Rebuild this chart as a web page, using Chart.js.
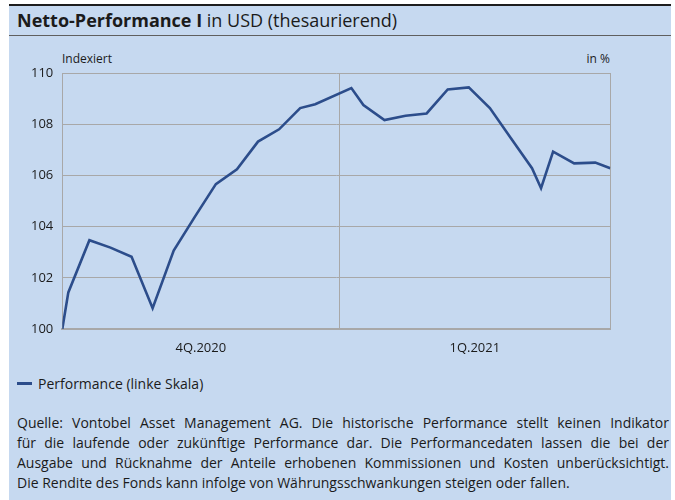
<!DOCTYPE html>
<html>
<head>
<meta charset="utf-8">
<script src="https://cdn.jsdelivr.net/npm/chart.js@4.4.0/dist/chart.umd.min.js"></script>
<style>
body{margin:0;background:#fff;font-family:'Open Sans',sans-serif;color:#1b1b1b;}
div,canvas{position:absolute;}
#panel{left:9px;top:4px;width:662px;height:496px;background:#c6d9f0;border-top:2px solid #1e1e1e;box-sizing:border-box;}
#title{left:9px;top:6px;width:654px;height:29px;line-height:29px;padding-left:8px;font-size:18px;border-bottom:1px solid #5f5f5f;}
#title b{font-weight:700;}
.unit{top:51px;font-size:12px;line-height:16px;}
#legendLine{left:17px;top:382px;width:15px;height:3px;background:#2c4d8b;}
#legendText{left:38px;top:374px;font-size:14px;line-height:20px;}
#note{left:17px;top:413px;width:652px;font-size:14px;line-height:20px;}
#note p{margin:0;text-align:justify;text-align-last:justify;}
#note p.last{text-align-last:left;}
</style>
</head>
<body>
<div id="panel"></div>
<div id="title"><b>Netto-Performance I</b> in USD (thesaurierend)</div>
<div class="unit" style="left:62px">Indexiert</div>
<div class="unit" style="left:560px;width:50px;text-align:right">in %</div>
<canvas id="chart" width="662" height="330" style="left:9px;top:36px"></canvas>
<div id="legendLine"></div>
<div id="legendText">Performance (linke Skala)</div>
<div id="note">
<p>Quelle: Vontobel Asset Management AG. Die historische Performance stellt keinen Indikator</p>
<p>für die laufende oder zukünftige Performance dar. Die Performancedaten lassen die bei der</p>
<p>Ausgabe und Rücknahme der Anteile erhobenen Kommissionen und Kosten unberücksichtigt.</p>
<p class="last">Die Rendite des Fonds kann infolge von Währungsschwankungen steigen oder fallen.</p>
</div>
<script>
// data
var dates = ['2020-10-01','2020-10-03','2020-10-10','2020-10-17','2020-10-24','2020-10-31','2020-11-07','2020-11-14','2020-11-21','2020-11-28','2020-12-05','2020-12-12','2020-12-19','2020-12-24','2021-01-05','2021-01-09','2021-01-16','2021-01-23','2021-01-30','2021-02-06','2021-02-13','2021-02-20','2021-02-27','2021-03-06','2021-03-09','2021-03-13','2021-03-20','2021-03-27','2021-04-01'];
var performance = [100.0,101.43,103.47,103.18,102.82,100.81,103.06,104.38,105.66,106.24,107.32,107.80,108.63,108.78,109.41,108.75,108.16,108.33,108.42,109.36,109.44,108.63,107.45,106.28,105.50,106.93,106.47,106.50,106.28];
var quarterStarts = ['2020-10-01','2021-01-01','2021-04-01'];
var quarterLabels = ['4Q.2020','1Q.2021'];
var yMin = 100;
var yMax = 110;
var yStep = 2;

var gridColor = '#a8a8a8';
var lineColor = '#2c4d8b';

function dayOf(d){
  return (Date.parse(d) - Date.parse(quarterStarts[0])) / 86400000;
}

var points = [];
for (var i=0;i<dates.length;i++){
  points.push({x: dayOf(dates[i]), y: performance[i]});
}

var bounds = quarterStarts.map(dayOf);
var mids = [];
for (var q=0;q<quarterLabels.length;q++){
  mids.push(Math.round((bounds[q] + bounds[q+1]) / 2));
}

var ctx = document.getElementById('chart').getContext('2d');
var chart = new Chart(ctx, {
  type: 'line',
  data: {
    datasets: [{
      label: 'Performance (linke Skala)',
      data: points,
      borderColor: lineColor,
      borderWidth: 2.6,
      pointRadius: 0,
      tension: 0
    }]
  },
  options: {
    responsive: false,
    animation: false,
    layout: {padding: {top: 37, right: 60.7, left: 0, bottom: 0}},
    plugins: {legend: {display: false}, tooltip: {enabled: false}},
    scales: {
      x: {
        type: 'linear',
        min: bounds[0],
        max: bounds[bounds.length-1],
        afterBuildTicks: function(scale){
          var all = bounds.concat(mids).sort(function(a,b){return a-b;});
          scale.ticks = all.map(function(v){return {value: v};});
        },
        afterFit: function(scale){ scale.height = 37; },
        grid: {
          drawTicks: false,
          color: function(c){
            return (c.tick && bounds.indexOf(c.tick.value) >= 0) ? gridColor : 'rgba(0,0,0,0)';
          }
        },
        border: {display: true, color: gridColor, width: 2},
        ticks: {
          autoSkip: false,
          maxRotation: 0,
          padding: 11,
          color: '#1b1b1b',
          font: {family: 'Open Sans', size: 13},
          callback: function(v){
            var k = mids.indexOf(v);
            return k >= 0 ? quarterLabels[k] : '';
          }
        }
      },
      y: {
        min: yMin,
        max: yMax,
        afterFit: function(scale){ scale.width = 53.3; },
        grid: {drawTicks: false, color: gridColor},
        border: {display: true, color: gridColor},
        ticks: {
          stepSize: yStep,
          padding: 9,
          color: '#1b1b1b',
          font: {family: 'Open Sans', size: 13}
        }
      }
    }
  }
});
</script>
</body>
</html>
